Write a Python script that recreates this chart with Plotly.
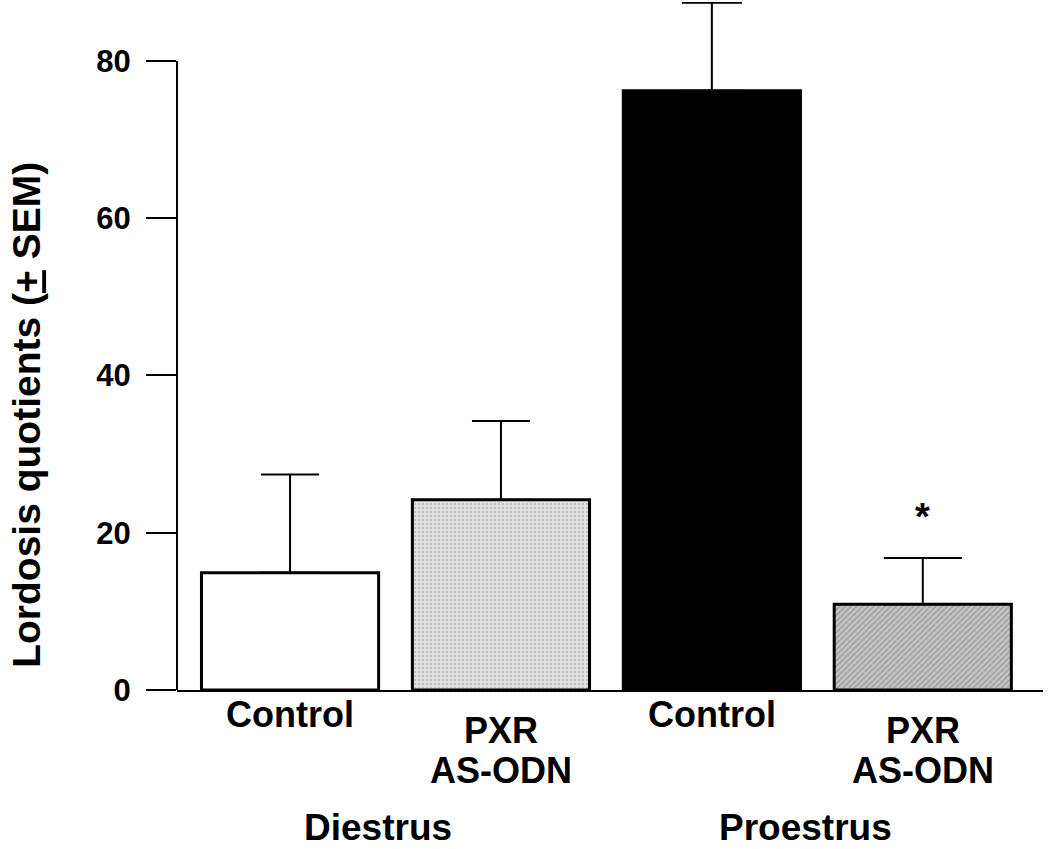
import plotly.graph_objects as go

# ---- data ----
categories = ["Diestrus Control", "Diestrus PXR AS-ODN", "Proestrus Control", "Proestrus PXR AS-ODN"]
bar_labels = ["Control", "PXR<br>AS-ODN", "Control", "PXR<br>AS-ODN"]
group_labels = ["Diestrus", "Proestrus"]
means = [14.9, 24.2, 76.2, 10.9]
sem = [12.5, 10.0, 11.2, 5.9]
significance = ["", "", "", "*"]
y_ticks = [0, 20, 40, 60, 80]

# ---- styles / layout ----
fills = ["white", "#e4e4e4", "black", "#c4c4c4"]
pattern_shapes = ["", ".", "", "/"]
pattern_fg = ["black", "#9a9a9a", "black", "#6e6e6e"]
cap_widths = [29, 29, 30, 39]
group_x = [0.417, 2.445]

FONT = "Liberation Sans, Arial, sans-serif"

fig = go.Figure()
for i, cat in enumerate(categories):
    marker = dict(color=fills[i], line=dict(color="black", width=3))
    if pattern_shapes[i]:
        marker["pattern"] = dict(shape=pattern_shapes[i], bgcolor=fills[i], fgcolor=pattern_fg[i],
                                 size=4, solidity=0.35)
    fig.add_trace(go.Bar(
        x=[cat], y=[means[i]],
        marker=marker,
        cliponaxis=False,
        error_y=dict(type="data", array=[sem[i]], arrayminus=[0], symmetric=False,
                     color="black", thickness=2, width=cap_widths[i]),
        showlegend=False,
    ))

annotations = []
label_font = dict(family=FONT, size=36, color="black", weight="bold")
# category labels under bars (one annotation per line)
for i, cat in enumerate(categories):
    lines = bar_labels[i].split("<br>")
    shifts = [-24] if len(lines) == 1 else [-40, -80]
    for line, sh in zip(lines, shifts):
        annotations.append(dict(
            x=cat, xref="x", y=0, yref="y", yanchor="middle",
            yshift=sh, text=line, showarrow=False, font=label_font,
        ))
    if significance[i]:
        annotations.append(dict(
            x=cat, xref="x", y=means[i] + sem[i], yref="y", yanchor="bottom",
            yshift=18, text=significance[i], showarrow=False,
            font=dict(family=FONT, size=38, color="black", weight="bold"),
        ))

# group labels
for g, name in enumerate(group_labels):
    annotations.append(dict(
        x=group_x[g], xref="x", y=0, yref="y", yanchor="middle",
        yshift=-137, text=name, showarrow=False,
        font=dict(family=FONT, size=37, color="black", weight="bold"),
    ))

# y-axis title
annotations.append(dict(
    x=0, xref="paper", xshift=-150, y=0.40, yref="paper",
    text="Lordosis quotients (<u>+</u> SEM)", textangle=-90, showarrow=False,
    xanchor="center", yanchor="middle",
    font=dict(family=FONT, size=39, color="black", weight="bold"),
))

fig.update_layout(
    width=1050, height=849,
    margin=dict(l=177, r=7, t=2, b=159),
    plot_bgcolor="white", paper_bgcolor="white",
    barmode="overlay", bargap=0.16,
    annotations=annotations,
    shapes=[dict(type="line", xref="paper", x0=0, x1=0, yref="y", y0=0, y1=y_ticks[-1],
                 line=dict(color="black", width=2))],
    font=dict(family=FONT, color="black"),
)
fig.update_xaxes(
    range=[-0.536, 3.57], showticklabels=False, ticks="",
    showline=True, linecolor="black", linewidth=2, showgrid=False, zeroline=False,
)
fig.update_yaxes(
    range=[0, 87.5], tickvals=y_ticks, ticks="outside", ticklen=30, tickwidth=2,
    tickcolor="black", showline=False, showgrid=False, zeroline=False,
    ticklabelstandoff=9,
    tickfont=dict(family=FONT, size=31, color="black", weight="bold"),
)

fig.write_html("out.html", config={"displayModeBar": False},
               post_script="document.body.style.margin='0';")
